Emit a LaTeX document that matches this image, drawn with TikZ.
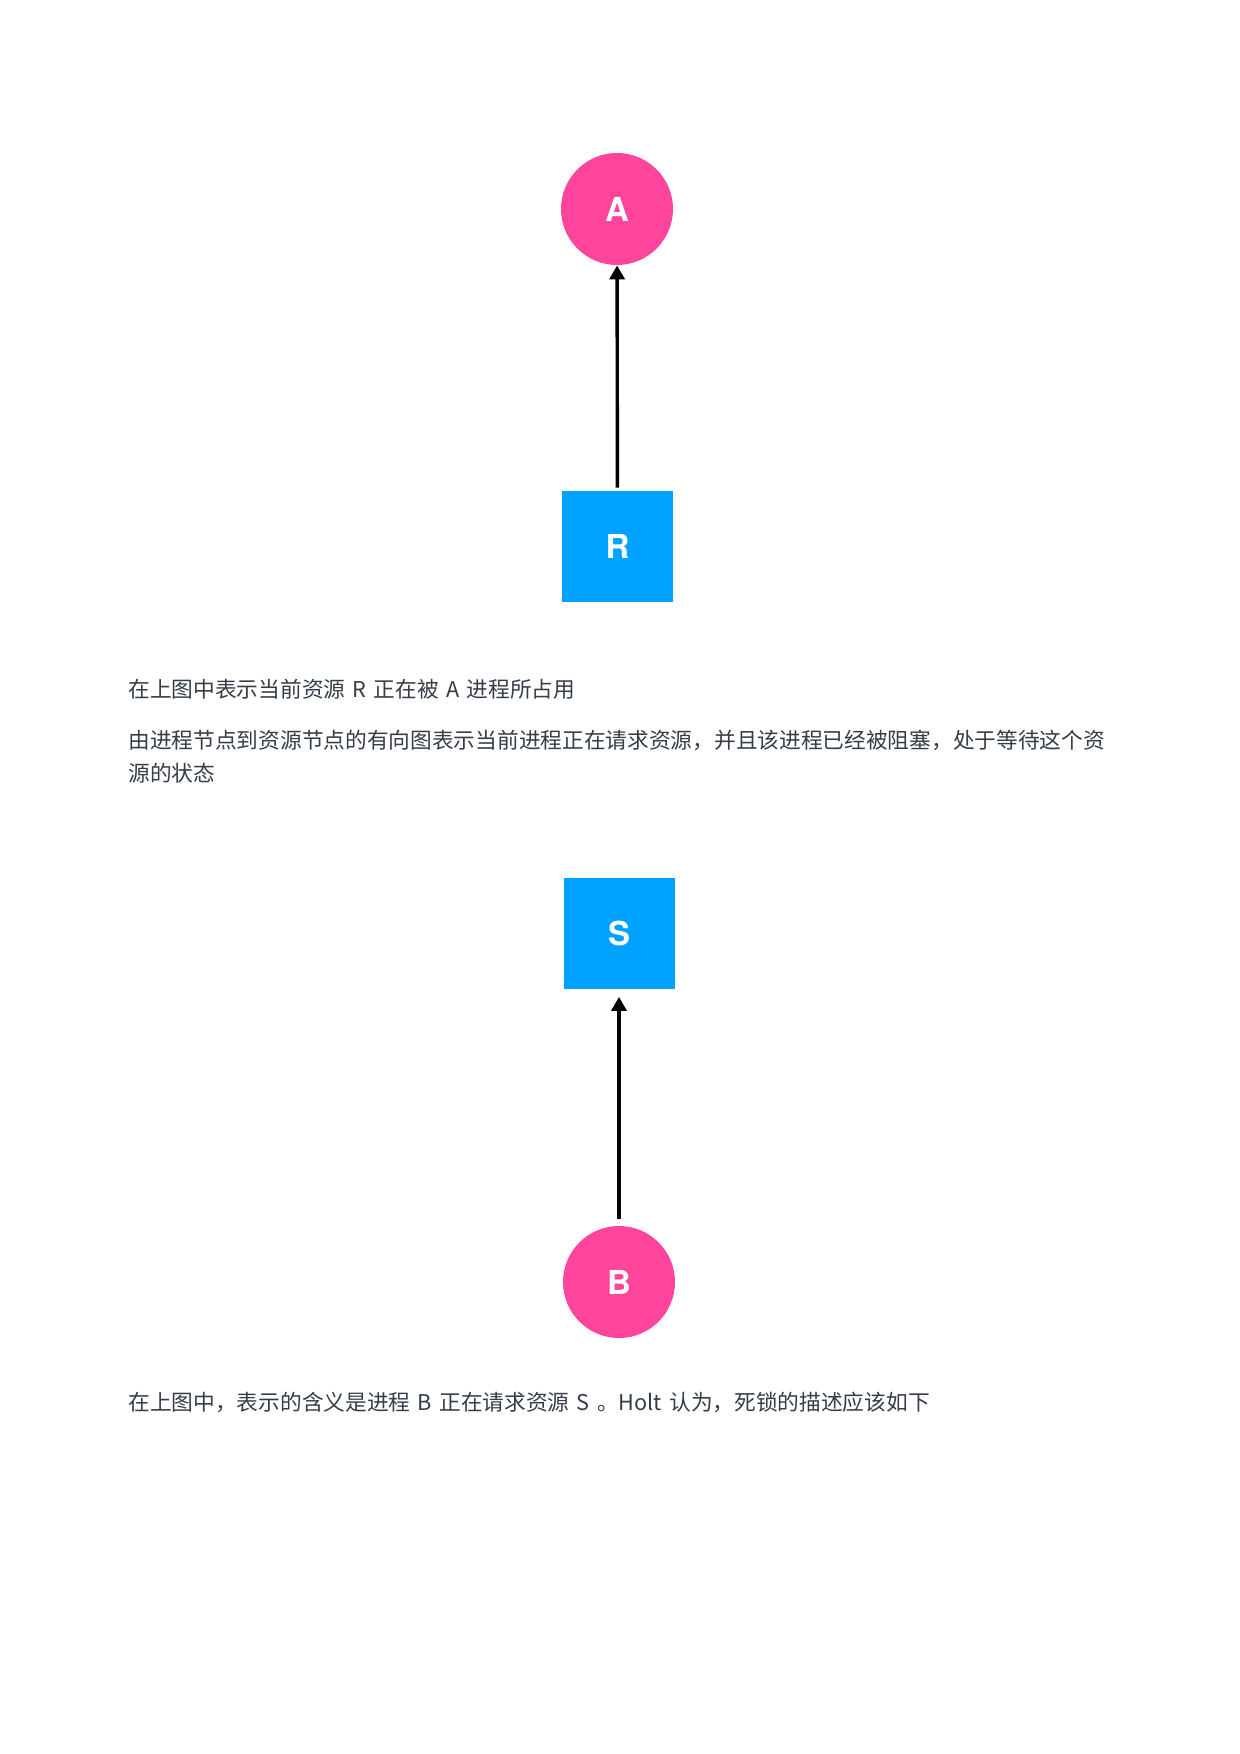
\documentclass[tikz,border=0pt]{standalone}
\usepackage{fontspec}
\newfontfamily\cjk[WordSpace=1.5]{Noto Sans CJK SC}
\newfontfamily\lab{TeX Gyre Heros}
\usetikzlibrary{arrows.meta}
\definecolor{procpink}{RGB}{255,69,155}
\definecolor{resblue}{RGB}{0,162,255}
\definecolor{txt}{RGB}{52,61,72}
\tikzset{
  proc/.style={circle,fill=procpink,minimum size=56pt,inner sep=0pt,text=white,font=\lab\bfseries\fontsize{16.5pt}{18pt}\selectfont},
  res/.style={rectangle,fill=resblue,minimum size=55.5pt,inner sep=0pt,text=white,font=\lab\bfseries\fontsize{16.5pt}{18pt}\selectfont},
  edge/.style={line width=1.7pt,-{Triangle[length=7pt,width=7.5pt]}},
  para/.style={anchor=base west,inner sep=0pt,text=txt,font=\cjk\fontsize{10.85pt}{16.5pt}\selectfont,align=left}
}
\begin{document}
\begin{tikzpicture}[x=0.5pt,y=-0.5pt]
\useasboundingbox[fill=white] (0,0) rectangle (1240,1754);
\node[proc] (A) at (617,209) {A};
\node[res] (R) at (617.5,546.5) {R};
\draw[edge,shorten <=1.5pt] (R) -- (A);
\node[para] (t1) at (128,697) {在上图中表示当前资源 R 正在被 A 进程所占用};
\node[para] (t2) at (128,781.5) {由进程节点到资源节点的有向图表示当前进程正在请求资源，并且该进程已经被阻塞，处于等待这个资\\源的状态};
\node[res] (S) at (619,933) {S};
\node[proc] (B) at (619,1282) {B};
\draw[edge,shorten <=3.5pt,shorten >=4pt] (B) -- (S);
\node[para] (t3) at (128,1410.5) {在上图中，表示的含义是进程 B 正在请求资源 S 。Holt 认为，死锁的描述应该如下};
\end{tikzpicture}
\end{document}
